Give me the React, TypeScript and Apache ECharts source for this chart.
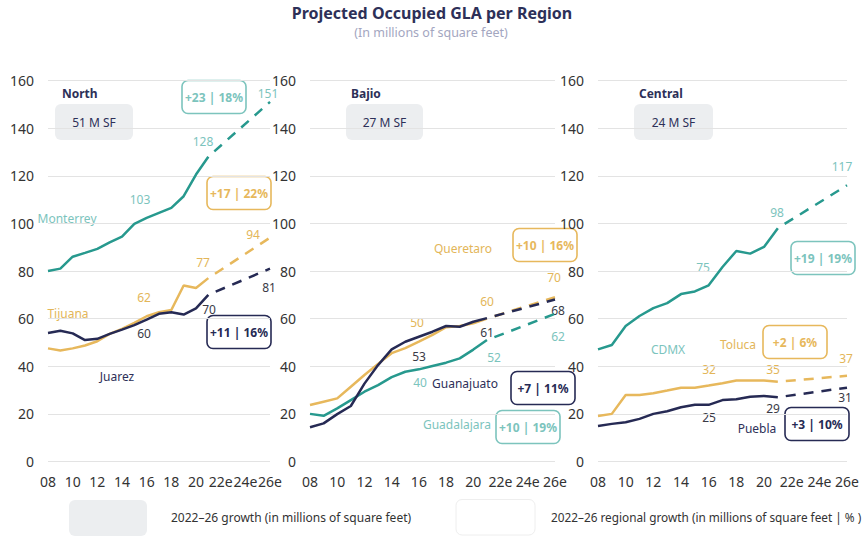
import React, { useEffect, useRef } from "react";
import * as echarts from "echarts";

// ---------- data ----------
const years = ["08","09","10","11","12","13","14","15","16","17","18","19","20","21","22e","23e","24e","25e","26e"];

const regions = ["North", "Bajio", "Central"];
const regionTotals = ["51 M SF", "27 M SF", "24 M SF"];

// North
const monterrey = [80, 81, 86, 87.6, 89.3, 92, 94.4, 99.8, 102.3, 104.4, 106.5, 111.4, 120.5, 128];
const monterrey2026 = 151;
const tijuana = [47.5, 46.6, 47.5, 48.7, 50.5, 53.6, 55.7, 58.2, 61, 62.7, 63.6, 73.9, 72.9, 77];
const tijuana2026 = 94;
const juarez = [54, 54.9, 53.8, 51, 51.5, 53.6, 55.4, 57.3, 59.6, 62, 62.7, 61.7, 64.3, 70];
const juarez2026 = 81;

// Bajio
const queretaro = [23.7, 25.1, 26.5, 31.4, 36.3, 41, 45.5, 47.6, 50.3, 53.2, 56.4, 56.9, 58, 60];
const queretaro2026 = 69;
const guanajuato = [14.4, 16, 19.9, 23.3, 32.7, 40.5, 47.1, 50.3, 52.4, 54.5, 56.9, 56.6, 58.7, 60.2];
const guanajuato2026 = 68;
const guadalajara = [20, 19.2, 22.3, 25.8, 29.3, 32.1, 35.4, 37.7, 38.7, 40.1, 41.5, 43.3, 47, 51];
const guadalajara2026 = 62;

// Central
const cdmx = [47.1, 48.9, 56.9, 61.1, 64.4, 66.5, 70.3, 71.4, 74, 81.7, 88.4, 87.3, 90.1, 98];
const cdmx2026 = 116;
const toluca = [19.1, 20, 27.9, 27.9, 28.7, 29.8, 31, 31, 31.9, 32.9, 34, 34, 34, 33.5];
const toluca2026 = 36;
const puebla = [14.9, 15.8, 16.5, 17.9, 20, 21.1, 22.8, 23.8, 23.8, 25.8, 26.1, 27.2, 27.5, 27];
const puebla2026 = 31;

// growth badges text
const growthNorth = ["+23 | 18%", "+17 | 22%", "+11 | 16%"];
const growthBajio = ["+10 | 16%", "+7 | 11%", "+10 | 19%"];
const growthCentral = ["+19 | 19%", "+2 | 6%", "+3 | 10%"];

// value labels text
const valueLabelsNorth = ["103", "128", "151", "77", "94", "62", "60", "70", "81"];
const valueLabelsBajio = ["70", "60", "50", "53", "61", "68", "62", "52", "40"];
const valueLabelsCentral = ["117", "98", "75", "32", "35", "37", "25", "29", "31"];

const legendTexts = [
  "2022–26 growth (in millions of square feet)",
  "2022–26 regional growth (in millions of square feet | % )",
];

// ---------- styles ----------
const FONT = "'Noto Sans', 'IBM Plex Sans', sans-serif";
const TEAL = "#27998e";
const TEAL_LIGHT = "#7cc4bd";
const GOLD = "#e7b85c";
const GOLD_LIGHT = "#e3b659";
const NAVY = "#262a54";
const NAVY_TEXT = "#2d3058";
const DARK = "#3a3a46";
const BOXGRAY = "#eceef0";

const gridPos = [
  { left: 48, width: 222 },
  { left: 310, width: 245 },
  { left: 598, width: 249 },
];

export default function App() {
  const ref = useRef<HTMLDivElement>(null);

  useEffect(() => {
    if (!ref.current) return;
    const chart = echarts.init(ref.current, undefined, { renderer: "svg" });

    const solid = (vals: number[], color: string, idx: number) => ({
      type: "line",
      xAxisIndex: idx,
      yAxisIndex: idx,
      data: vals,
      symbol: "none",
      silent: true,
      lineStyle: { color, width: 2.5 },
    });
    const dashed = (from: number, to: number, color: string, idx: number) => {
      const d: (number | null)[] = years.map(() => null);
      d[13] = from;
      d[18] = to;
      return {
        type: "line",
        xAxisIndex: idx,
        yAxisIndex: idx,
        data: d,
        connectNulls: true,
        symbol: "none",
        silent: true,
        lineStyle: { color, width: 2.5, type: [10, 8], dashOffset: 10 },
      };
    };

    const series = [
      solid(tijuana, GOLD, 0), dashed(tijuana[13], tijuana2026, GOLD, 0),
      solid(juarez, NAVY, 0), dashed(juarez[13], juarez2026, NAVY, 0),
      solid(monterrey, TEAL, 0), dashed(monterrey[13], monterrey2026, TEAL, 0),
      solid(guadalajara, TEAL, 1), dashed(guadalajara[13], guadalajara2026, TEAL, 1),
      solid(queretaro, GOLD, 1), dashed(queretaro[13], queretaro2026, GOLD, 1),
      solid(guanajuato, NAVY, 1), dashed(guanajuato[13], guanajuato2026, NAVY, 1),
      solid(cdmx, TEAL, 2), dashed(cdmx[13], cdmx2026, TEAL, 2),
      solid(toluca, GOLD, 2), dashed(toluca[13], toluca2026, GOLD, 2),
      solid(puebla, NAVY, 2), dashed(puebla[13], puebla2026, NAVY, 2),
    ];

    const text = (t: string, x: number, y: number, color: string, size = 12, weight = "normal", align = "center") => ({
      type: "text",
      x,
      y,
      silent: true,
      style: {
        text: t,
        fill: color,
        font: `${weight} ${size}px ${FONT}`,
        textAlign: align,
        textVerticalAlign: "middle",
        align,
        verticalAlign: "middle",
      },
    });
    const badge = (t: string, cx: number, cy: number, color: string) => [
      {
        type: "rect",
        silent: true,
        shape: { x: cx - 32, y: cy - 16.5, width: 64, height: 33, r: 6 },
        style: { fill: "#ffffff", stroke: color, lineWidth: 1.6 },
      },
      text(t, cx, cy, color, 12, "bold"),
    ];

    const badgePos = [
      [[214, 97, TEAL_LIGHT], [239, 193, GOLD], [239, 332, NAVY]],
      [[545, 245, GOLD], [543, 388, NAVY], [528, 427, TEAL_LIGHT]],
      [[823, 258, TEAL_LIGHT], [795, 342, GOLD], [817, 424, NAVY]],
    ];
    const badgeTexts = [growthNorth, growthBajio, growthCentral];

    const valuePos = [
      [[140, 199, TEAL_LIGHT], [203, 141, TEAL_LIGHT], [268, 93, TEAL_LIGHT], [203, 262, GOLD_LIGHT], [253, 234, GOLD_LIGHT], [144, 297, GOLD_LIGHT], [144, 333, DARK], [209, 309, DARK], [269, 287, DARK]],
      [[554, 277, GOLD_LIGHT], [487, 301, GOLD_LIGHT], [417, 322, GOLD_LIGHT], [419, 356, DARK], [487, 332, DARK], [558, 310, DARK], [558, 336, TEAL_LIGHT], [494, 357, TEAL_LIGHT], [420, 382, TEAL_LIGHT]],
      [[842, 166, TEAL_LIGHT], [777, 212, TEAL_LIGHT], [703, 267, TEAL_LIGHT], [709, 369, GOLD_LIGHT], [773, 369, GOLD_LIGHT], [846, 358, GOLD_LIGHT], [709, 417, DARK], [773, 408, DARK], [845, 397, DARK]],
    ];
    const valueTexts = [valueLabelsNorth, valueLabelsBajio, valueLabelsCentral];

    const names: [string, number, number, string][] = [
      ["Monterrey", 67, 218, TEAL_LIGHT],
      ["Tijuana", 68, 313, GOLD_LIGHT],
      ["Juarez", 117, 376, NAVY_TEXT],
      ["Queretaro", 463, 248, GOLD_LIGHT],
      ["Guanajuato", 465, 383, NAVY_TEXT],
      ["Guadalajara", 457, 424, TEAL_LIGHT],
      ["CDMX", 668, 349, TEAL_LIGHT],
      ["Toluca", 738, 344, GOLD_LIGHT],
      ["Puebla", 757, 428, NAVY_TEXT],
    ];

    const headerPos = [
      { hx: 62, bx: 55, bw: 78 },
      { hx: 351, bx: 346, bw: 77 },
      { hx: 639, bx: 634, bw: 79 },
    ];

    const graphic: any[] = [];
    // title
    graphic.push(text("Projected Occupied GLA per Region", 432, 13, NAVY_TEXT, 16, "bold"));
    graphic.push(text("(In millions of square feet)", 431, 32, "#a3a6bf", 12.5));
    // region headers
    regions.forEach((r, i) => {
      const p = headerPos[i];
      graphic.push(text(r, p.hx, 93, NAVY_TEXT, 12, "bold", "left"));
      graphic.push({
        type: "rect",
        silent: true,
        shape: { x: p.bx, y: 104, width: p.bw, height: 36, r: 6 },
        style: { fill: BOXGRAY },
      });
      graphic.push(text(regionTotals[i], p.bx + p.bw / 2, 122, NAVY_TEXT, 12));
    });
    // badges
    badgePos.forEach((arr, i) =>
      arr.forEach((b: any, j) => graphic.push(...badge(badgeTexts[i][j], b[0], b[1], b[2])))
    );
    // value labels
    valuePos.forEach((arr, i) =>
      arr.forEach((v: any, j) => graphic.push(text(valueTexts[i][j], v[0], v[1], v[2], 12)))
    );
    // series names
    names.forEach((n) => graphic.push(text(n[0], n[1], n[2], n[3], 12)));
    // legend
    graphic.push({
      type: "rect",
      silent: true,
      shape: { x: 69, y: 500, width: 78, height: 36, r: 6 },
      style: { fill: BOXGRAY },
    });
    graphic.push(text(legendTexts[0], 171, 517, "#333333", 12, "normal", "left"));
    graphic.push({
      type: "rect",
      silent: true,
      shape: { x: 456, y: 499.5, width: 79, height: 35.5, r: 6 },
      style: { fill: "#ffffff", stroke: "#eeeeee", lineWidth: 1 },
    });
    graphic.push(text(legendTexts[1], 551, 517, "#333333", 11.8, "normal", "left"));

    chart.setOption({
      animation: false,
      backgroundColor: "#ffffff",
      textStyle: { fontFamily: FONT },
      grid: gridPos.map((g) => ({ left: g.left, width: g.width, top: 80.5, height: 381 })),
      xAxis: gridPos.map((_, i) => ({
        type: "category",
        gridIndex: i,
        data: years,
        boundaryGap: false,
        axisLine: { show: false },
        axisTick: { show: false },
        axisLabel: { interval: 1, color: "#333333", fontSize: 14, margin: 13, fontFamily: FONT },
        splitLine: { show: false },
      })),
      yAxis: gridPos.map((_, i) => ({
        type: "value",
        gridIndex: i,
        min: 0,
        max: 160,
        interval: 20,
        axisLine: { show: false },
        axisTick: { show: false },
        axisLabel: { color: "#333333", fontSize: 14, margin: 14, fontFamily: FONT },
        splitLine: { lineStyle: { color: "#e3e3e3", width: 1.2 } },
      })),
      series,
      graphic,
    });

    return () => chart.dispose();
  }, []);

  return (
    <div
      ref={ref}
      style={{ position: "fixed", left: 0, top: 0, width: 868, height: 537, background: "#fff" }}
    />
  );
}
